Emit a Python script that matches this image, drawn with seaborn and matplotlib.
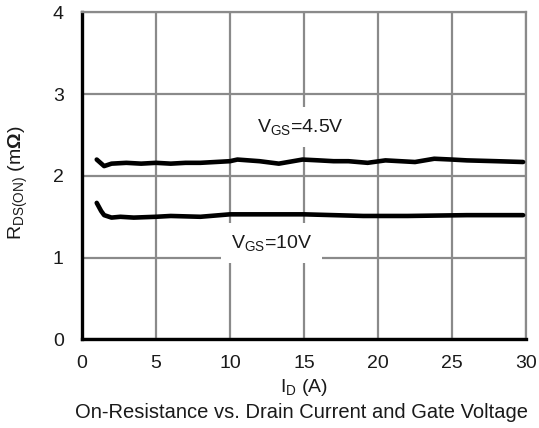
import pandas as pd
import matplotlib
matplotlib.use('Agg')
import matplotlib.pyplot as plt
import seaborn as sns

# values
id_45 = [1.0, 1.5, 2.0, 3.0, 4.0, 5.0, 6.0, 7.0, 8.0, 9.0, 10.0, 10.5, 12.0, 13.3, 14.9,
         16.0, 17.0, 18.0, 19.3, 20.5, 21.5, 22.5, 23.8, 25.0, 26.0, 28.0, 29.8]
rds_45 = [2.20, 2.12, 2.15, 2.16, 2.15, 2.16, 2.15, 2.16, 2.16, 2.17, 2.18, 2.20, 2.18, 2.15, 2.20,
          2.19, 2.18, 2.18, 2.16, 2.19, 2.18, 2.17, 2.21, 2.20, 2.19, 2.18, 2.17]

id_10 = [1.0, 1.3, 1.5, 2.0, 2.6, 3.5, 5.0, 6.0, 8.0, 10.0, 12.0, 15.0, 19.0, 22.0, 26.0, 29.8]
rds_10 = [1.67, 1.57, 1.52, 1.49, 1.50, 1.49, 1.50, 1.51, 1.50, 1.53, 1.53, 1.53, 1.51, 1.51, 1.52, 1.52]

x_ticks = [0, 5, 10, 15, 20, 25, 30]
y_ticks = [0, 1, 2, 3, 4]

df45 = pd.DataFrame({'Id': id_45, 'Rds': rds_45})
df10 = pd.DataFrame({'Id': id_10, 'Rds': rds_10})

sns.set_style('white')
plt.rcParams['font.family'] = ['Liberation Sans', 'DejaVu Sans']
plt.rcParams['mathtext.fontset'] = 'custom'
plt.rcParams['mathtext.rm'] = 'Liberation Sans'
plt.rcParams['mathtext.bf'] = 'Liberation Sans:bold'

fs = 14
txt_col = '#1a1a1a'

fig = plt.figure(figsize=(5.39, 4.28), dpi=100)
ax = fig.add_axes([0.152, 0.207, 0.824, 0.764])

grid_col = '#8a8a8a'
ax.set_xlim(0, 30)
ax.set_ylim(0, 4)
ax.set_xticks(x_ticks)
ax.set_yticks(y_ticks)
ax.grid(True, color=grid_col, linewidth=1.6)
ax.set_axisbelow(True)

sns.lineplot(data=df45, x='Id', y='Rds', color='black', linewidth=3.3, ax=ax, zorder=3)
sns.lineplot(data=df10, x='Id', y='Rds', color='black', linewidth=3.3, ax=ax, zorder=3)

box = dict(facecolor='white', edgecolor='none', pad=7)
ax.text(14.75, 2.60, r'$\mathregular{V_{GS}}$=4.5V', ha='center', va='center',
        fontsize=fs, color=txt_col, bbox=box, zorder=2)
ax.text(12.8, 1.18, r'$\mathregular{V_{GS}}$=10V', ha='center', va='center',
        fontsize=fs, color=txt_col, bbox=box, zorder=2)

for side in ['left', 'bottom']:
    ax.spines[side].set_color('black')
    ax.spines[side].set_linewidth(2.4)
for side in ['top', 'right']:
    ax.spines[side].set_color(grid_col)
    ax.spines[side].set_linewidth(1.6)

ax.tick_params(length=0, labelsize=fs, labelcolor=txt_col)
ax.tick_params(axis='x', pad=11)
ax.tick_params(axis='y', pad=13)
ax.set_xlabel(r'$\mathregular{I_D}$ (A)', fontsize=fs, color=txt_col, labelpad=4)
ax.set_ylabel(r'$\mathregular{R_{DS(ON)}}$ (m$\mathbf{\Omega}$)', fontsize=fs, color=txt_col)
ax.yaxis.set_label_coords(-0.117, 0.48)

fig.text(0.56, 0.037, 'On-Resistance vs. Drain Current and Gate Voltage',
         ha='center', va='center', fontsize=fs + 0.5, color=txt_col)

fig.savefig('out.png', dpi=100, facecolor='white')
